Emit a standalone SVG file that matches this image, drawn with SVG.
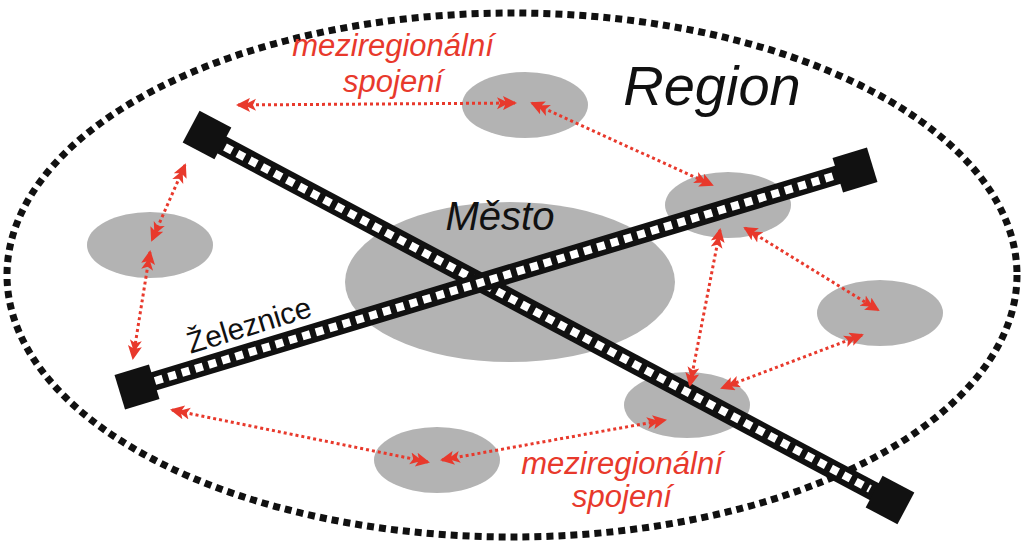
<svg xmlns="http://www.w3.org/2000/svg" width="1023" height="547" viewBox="0 0 1023 547">
<style>
.reg{fill:#b3b3b3}
.rail{stroke:#111;stroke-width:19;fill:none}
.tie{stroke:#fff;stroke-width:8;stroke-dasharray:8 6;fill:none}
.conn{stroke:#e8392c;stroke-width:3;stroke-dasharray:3 3;fill:none;marker-start:url(#ah);marker-end:url(#ah)}
.red{fill:#e8392c;font-family:"Liberation Sans",Arial,sans-serif;font-style:italic;font-size:31px;text-anchor:middle}
.blk{fill:#111;font-family:"Liberation Sans",Arial,sans-serif;font-style:italic;text-anchor:middle}
</style>
<defs>
<marker id="ah" viewBox="0 0 20 14" refX="18" refY="7" markerWidth="20" markerHeight="14" markerUnits="userSpaceOnUse" orient="auto-start-reverse">
<path d="M20,7 L6,0 L9,7 L6,14 Z M12,7 L0,1 L3,7 L0,13 Z" fill="#e8392c"/>
</marker>
</defs>
<rect width="1023" height="547" fill="#fff"/>
<ellipse cx="512" cy="275" rx="505" ry="262" fill="none" stroke="#111" stroke-width="7" stroke-dasharray="7 5"/>
<g id="mesto"><ellipse class="reg" cx="510" cy="282" rx="165" ry="80"/></g>
<g id="r-top"><ellipse class="reg" cx="525" cy="105" rx="63" ry="33"/></g>
<g id="r-left"><ellipse class="reg" cx="150" cy="245" rx="63" ry="33"/></g>
<g id="r-ru"><ellipse class="reg" cx="728" cy="205" rx="63" ry="33"/></g>
<g id="r-right"><ellipse class="reg" cx="880" cy="313" rx="63" ry="33"/></g>
<g id="r-lr"><ellipse class="reg" cx="687" cy="405" rx="63" ry="33"/></g>
<g id="r-bot"><ellipse class="reg" cx="437" cy="460" rx="63" ry="33"/></g>
<g id="rail1">
<line class="rail" x1="205" y1="136" x2="890" y2="500"/>
<line class="tie" x1="225" y1="147" x2="870" y2="489"/>
<rect x="-18" y="-18" width="36" height="36" fill="#111" transform="translate(207,135) rotate(28)"/>
<rect x="-18" y="-18" width="36" height="36" fill="#111" transform="translate(890,500) rotate(28)"/>
</g>
<g id="rail2">
<line class="rail" x1="135" y1="387" x2="857" y2="169"/>
<line class="tie" x1="155" y1="381" x2="837" y2="175"/>
<rect x="-18" y="-18" width="36" height="36" fill="#111" transform="translate(137,387) rotate(-17)"/>
<rect x="-18" y="-18" width="36" height="36" fill="#111" transform="translate(855,170) rotate(-17)"/>
</g>
<g id="connectors">
<line class="conn" x1="238" y1="105" x2="515" y2="103"/>
<line class="conn" x1="532" y1="103" x2="712" y2="185"/>
<line class="conn" x1="185" y1="165" x2="152" y2="240"/>
<line class="conn" x1="150" y1="252" x2="133" y2="358"/>
<line class="conn" x1="720" y1="230" x2="690" y2="385"/>
<line class="conn" x1="745" y1="228" x2="878" y2="310"/>
<line class="conn" x1="862" y1="335" x2="722" y2="388"/>
<line class="conn" x1="172" y1="410" x2="428" y2="462"/>
<line class="conn" x1="442" y1="460" x2="665" y2="420"/>
</g>
<text class="red" x="393" y="56">meziregionální</text>
<text class="red" x="393" y="92">spojení</text>
<text class="red" x="622" y="474" font-size="29">meziregionální</text>
<text class="red" x="622" y="507" font-size="29">spojení</text>
<text class="blk" x="712" y="105" font-size="56">Region</text>
<text class="blk" x="500" y="230" font-size="40">Město</text>
<text x="252" y="335" font-family="'Liberation Sans',Arial,sans-serif" font-size="30" fill="#111" text-anchor="middle" transform="rotate(-17 252 335)">Železnice</text>
</svg>
